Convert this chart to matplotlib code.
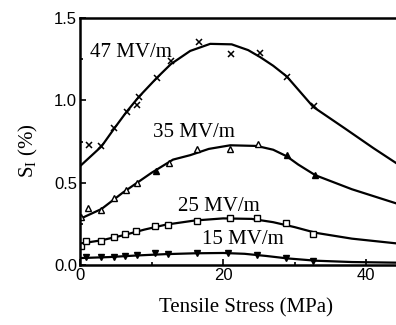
import numpy as np
import matplotlib.pyplot as plt
from matplotlib.ticker import MultipleLocator

# 47 MV/m - measured points (x markers)
x47 = [1.2, 3.0, 4.8, 6.5, 7.9, 8.2, 10.7, 12.7, 16.7, 21.1, 25.1, 28.9, 32.7]
y47 = [0.73, 0.72, 0.83, 0.93, 0.97, 1.02, 1.135, 1.24, 1.353, 1.28, 1.287, 1.14, 0.964]
# 47 MV/m - fitted curve
cx47 = [0, 1.5, 3, 4.8, 6.5, 8.2, 10.7, 12.7, 15.4, 18.2, 21.2, 23.5, 25.2, 27.0, 28.9, 32.6, 37, 41, 44.5]
cy47 = [0.60, 0.66, 0.72, 0.83, 0.93, 1.02, 1.135, 1.22, 1.30, 1.343, 1.34, 1.305, 1.262, 1.21, 1.145, 0.96, 0.83, 0.71, 0.61]

# 35 MV/m - measured points (open and filled triangles)
x35 = [0.2, 1.1, 3.0, 4.8, 6.4, 7.9, 12.4, 16.4, 21.0, 24.9]
y35 = [0.29, 0.344, 0.337, 0.408, 0.455, 0.499, 0.622, 0.707, 0.707, 0.733]
x35f = [10.6, 28.9, 32.9]
y35f = [0.571, 0.667, 0.545]
cx35 = [0, 3, 6, 10, 13, 15.4, 18, 21, 24.7, 27, 28.9, 30.5, 32.9, 38, 44.5]
cy35 = [0.28, 0.34, 0.44, 0.56, 0.64, 0.667, 0.705, 0.727, 0.723, 0.70, 0.66, 0.61, 0.545, 0.46, 0.37]

# 25 MV/m - measured points (squares)
x25 = [0.1, 0.9, 2.9, 4.7, 6.3, 7.8, 10.5, 12.35, 16.3, 20.9, 24.8, 28.8, 32.6]
y25 = [0.115, 0.147, 0.147, 0.172, 0.188, 0.208, 0.236, 0.242, 0.268, 0.287, 0.287, 0.253, 0.188]
cx25 = [0, 3, 6, 9, 12, 16, 20, 24, 27, 30, 33, 38, 44.5]
cy25 = [0.13, 0.15, 0.18, 0.215, 0.245, 0.27, 0.283, 0.28, 0.26, 0.23, 0.195, 0.16, 0.13]

# 15 MV/m - measured points (filled triangles)
x15 = [0.9, 3.0, 4.8, 6.3, 7.9, 10.5, 12.3, 16.3, 20.7, 24.8, 28.8, 32.6]
y15 = [0.047, 0.047, 0.05, 0.054, 0.06, 0.071, 0.067, 0.071, 0.075, 0.061, 0.04, 0.024]
cx15 = [0, 4, 8, 12, 16, 20, 23, 26, 29, 33, 38, 44.5]
cy15 = [0.042, 0.048, 0.058, 0.066, 0.071, 0.073, 0.068, 0.055, 0.04, 0.026, 0.018, 0.014]

labels = ['47 MV/m', '35 MV/m', '25 MV/m', '15 MV/m']

serif = ['Liberation Serif', 'DejaVu Serif']

fig = plt.figure(figsize=(3.96, 3.25), dpi=100)
# axes run past the right edge (the original is cropped there)
ax = fig.add_axes([80/396, 1 - 265/325, (412 - 80)/396, (265 - 18)/325])

lw = 1.6
ax.plot(cx47, cy47, color='black', lw=lw)
ax.plot(x47, y47, 'x', color='black', ms=5, mew=1.1)

ax.plot(cx35, cy35, color='black', lw=lw)
ax.plot(x35, y35, '^', mfc='white', mec='black', ms=5, mew=1.0)
ax.plot(x35f, y35f, '^', color='black', ms=5)

ax.plot(cx25, cy25, color='black', lw=lw)
ax.plot(x25, y25, 's', mfc='white', mec='black', ms=4.5, mew=1.0)

ax.plot(cx15, cy15, color='black', lw=lw)
ax.plot(x15, y15, 'v', color='black', ms=4.5)

ax.text(1.4, 1.29, labels[0], fontsize=15, family=serif, va='center', ha='left')
ax.text(10.2, 0.806, labels[1], fontsize=15, family=serif, va='center', ha='left')
ax.text(13.7, 0.358, labels[2], fontsize=15, family=serif, va='center', ha='left')
ax.text(17.1, 0.152, labels[3], fontsize=15, family=serif, va='center', ha='left')

ax.set_xlim(0, 46.4)
ax.set_ylim(0, 1.5)
ax.xaxis.set_major_locator(MultipleLocator(20))
ax.xaxis.set_minor_locator(MultipleLocator(10))
ax.yaxis.set_major_locator(MultipleLocator(0.5))
ax.yaxis.set_minor_locator(MultipleLocator(0.25))
ax.yaxis.set_major_formatter(plt.FuncFormatter(lambda v, p: f'{v:.1f}'))
ax.tick_params(which='both', direction='in', labelsize=12, width=1.2)
ax.tick_params(which='major', length=4, pad=2)
ax.tick_params(which='minor', length=2.5)
for lab in ax.get_xticklabels() + ax.get_yticklabels():
    lab.set_family('Liberation Sans')
for s in ['left', 'bottom', 'top']:
    ax.spines[s].set_linewidth(1.8)
ax.spines['right'].set_visible(False)

fig.text(246/396, 1 - 308/325, 'Tensile Stress (MPa)', fontsize=15, family=serif,
         ha='center', va='center')
fig.text(28/396, 1 - 151/325, r'S$_\mathregular{I}$ (%)', fontsize=15, family=serif,
         ha='center', va='center', rotation=90)

fig.savefig('out.png', dpi=100)
